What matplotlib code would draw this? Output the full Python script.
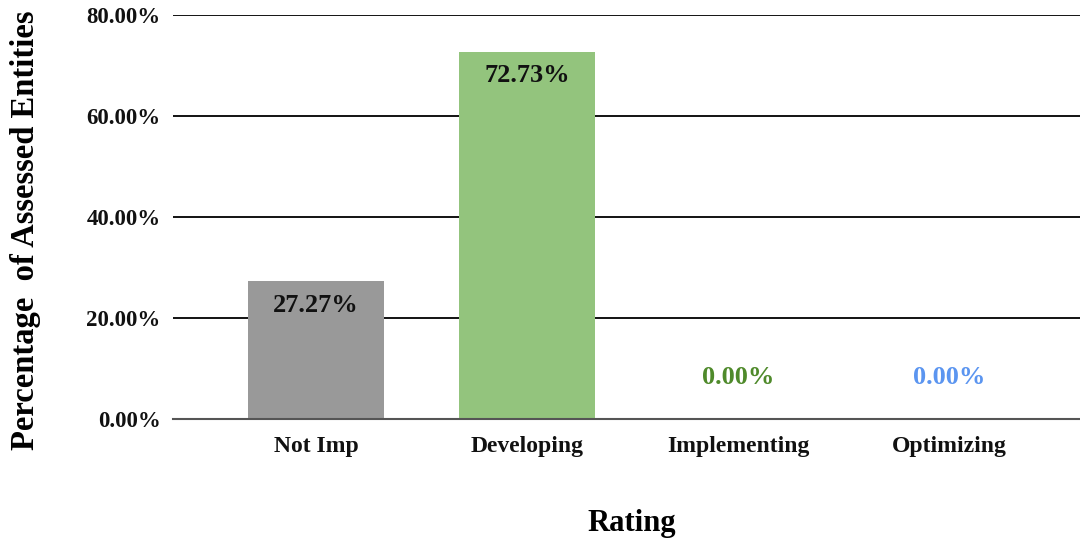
import matplotlib
matplotlib.use("Agg")
import matplotlib.pyplot as plt
from matplotlib.ticker import FuncFormatter

ratings = ["Not Imp", "Developing", "Implementing", "Optimizing"]
shares = [27.27, 72.73, 0.00, 0.00]
bar_colors = ["#999999", "#93c47d", "#6aa84f", "#6d9eeb"]
label_colors = ["#111111", "#111111", "#4f8a2b", "#5b95f0"]
y_ticks = [0, 20, 40, 60, 80]

plt.rcParams["font.family"] = ["Liberation Serif", "DejaVu Serif"]
plt.rcParams["font.weight"] = "bold"

fig = plt.figure(figsize=(10.8, 5.4), dpi=100)
ax = fig.add_axes([173 / 1080, 1 - 419 / 540, 907 / 1080, 404 / 540])

x = range(len(ratings))
bars = ax.bar(x, shares, width=0.645, color=bar_colors, zorder=3)

for rect, val, col in zip(bars, shares, label_colors):
    cx = rect.get_x() + rect.get_width() / 2
    # labels sit inside the bar top; empty bars get theirs above the baseline
    dy = -24 if val > 0 else 42
    ax.annotate(f"{val:.2f}%", (cx, val), xytext=(0, dy),
                textcoords="offset pixels", ha="center", va="center",
                fontsize=19, fontweight="bold", color=col, zorder=4)

ax.set_xlim(-0.678, 3.62)
ax.set_ylim(0, 80)
ax.set_yticks(y_ticks)
ax.yaxis.set_major_formatter(FuncFormatter(lambda v, _: f"{v:.2f}%"))
ax.set_xticks(list(x))
ax.set_xticklabels(ratings)
ax.tick_params(axis="both", length=0, colors="#111111")
ax.tick_params(axis="x", pad=12, labelsize=17)
ax.tick_params(axis="y", pad=9, labelsize=16.5)

ax.grid(axis="y", color="#000000", linewidth=1.3, zorder=1)
for side in ("top", "right", "left"):
    ax.spines[side].set_visible(False)
ax.spines["bottom"].set_color("#555555")
ax.spines["bottom"].set_linewidth(1.5)
ax.spines["bottom"].set_zorder(3)

ax.set_xlabel("Rating", fontsize=22, fontweight="bold")
ax.xaxis.set_label_coords(0.506, -0.222)
ax.set_ylabel("Percentage  of Assessed Entities", fontsize=23.5,
              fontweight="bold")
ax.yaxis.set_label_coords(-0.145, 0.468)

fig.savefig("out.png", dpi=100, facecolor="white")
